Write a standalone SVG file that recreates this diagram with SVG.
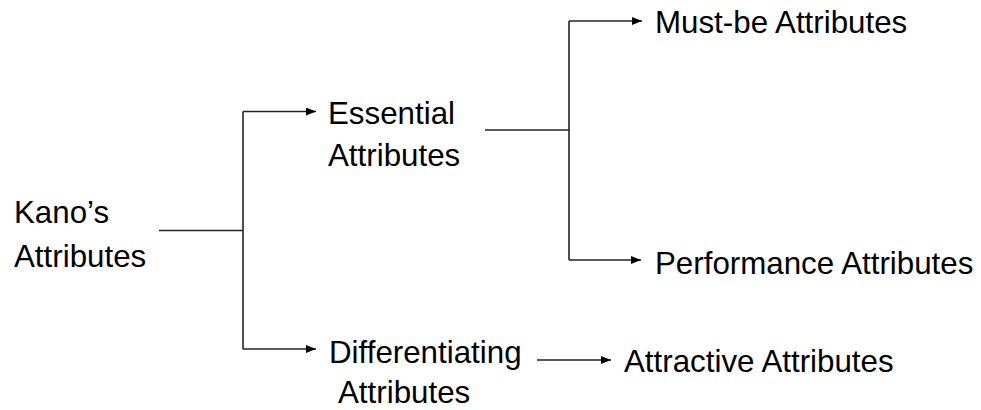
<svg xmlns="http://www.w3.org/2000/svg" width="981" height="410" viewBox="0 0 981 410">
  <defs>
    <marker id="arrow" viewBox="0 0 10 8" refX="10" refY="4" markerWidth="10" markerHeight="8" markerUnits="userSpaceOnUse" orient="auto">
      <path d="M0,0 L10,4 L0,8 Z" fill="#000"/>
    </marker>
    <style>
      .lbl { font-family: "Liberation Sans", Arial, sans-serif; font-size: 31.3px; fill: #000; }
      .ln { fill: none; stroke: #222; stroke-width: 1.6; }
      .ar { marker-end: url(#arrow); }
    </style>
  </defs>
  <rect width="981" height="410" fill="#fff"/>

  <g id="connectors">
    <!-- root trunk -->
    <path class="ln" d="M159,230.5 H243"/>
    <path class="ln" d="M243,111.5 V349"/>
    <path class="ln ar" d="M243,111.5 H316"/>
    <path class="ln ar" d="M243,349 H316"/>
    <!-- essential branch -->
    <path class="ln" d="M485,130 H569"/>
    <path class="ln" d="M569,21 V260"/>
    <path class="ln ar" d="M569,21 H642"/>
    <path class="ln ar" d="M569,260 H641"/>
    <!-- differentiating branch -->
    <path class="ln ar" d="M537,360 H611"/>
  </g>

  <g id="kano">
    <text class="lbl" x="14" y="223">Kano’s</text>
    <text class="lbl" x="14" y="267">Attributes</text>
  </g>
  <g id="essential">
    <text class="lbl" x="328" y="124">Essential</text>
    <text class="lbl" x="328" y="166">Attributes</text>
  </g>
  <g id="differentiating">
    <text class="lbl" x="329" y="363">Differentiating</text>
    <text class="lbl" x="338" y="403">Attributes</text>
  </g>
  <g id="mustbe">
    <text class="lbl" x="655" y="33">Must-be Attributes</text>
  </g>
  <g id="performance">
    <text class="lbl" x="655" y="274">Performance Attributes</text>
  </g>
  <g id="attractive">
    <text class="lbl" x="624" y="372">Attractive Attributes</text>
  </g>
</svg>
